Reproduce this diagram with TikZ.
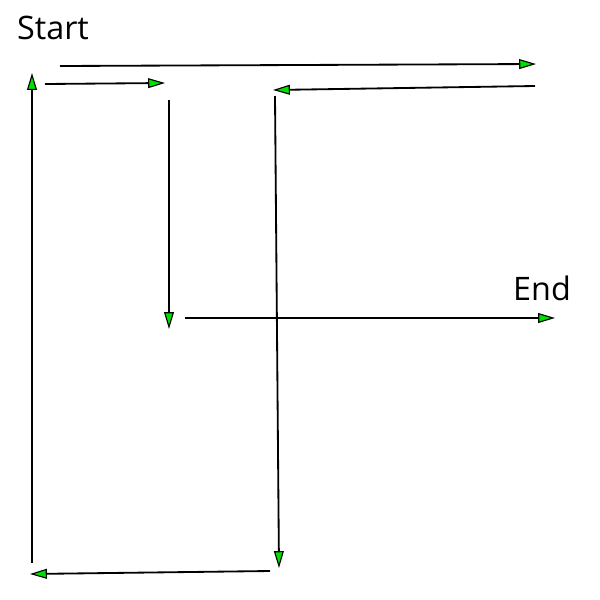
\documentclass[tikz,border=0pt]{standalone}
\usepackage{fontspec}
\setmainfont{Open Sans}
\usetikzlibrary{arrows.meta}

\tikzset{
  flow/.style={line width=1.3pt, -{Triangle[length=12pt, width=7pt, fill=green!80!black!60!green, line width=0.8pt]}},
  lbl/.style={font=\fontsize{23}{27}\selectfont, inner sep=0pt}
}

\begin{document}
\begin{tikzpicture}[x=0.025cm, y=-0.025cm]
      \useasboundingbox (0,0) rectangle (600,600);
      %labels
      \node[lbl] (start) at (53,28) {Start};
      \node[lbl] (end) at (542,288) {End};
      %points
      \coordinate (A1) at (60,66);   \coordinate (A2) at (536,64);
      \coordinate (B1) at (45,84);   \coordinate (B2) at (165,83);
      \coordinate (C1) at (535,86);  \coordinate (C2) at (273,90);
      \coordinate (D1) at (169,100); \coordinate (D2) at (169,329);
      \coordinate (E1) at (185,318); \coordinate (E2) at (555,318);
      \coordinate (F1) at (275,96);  \coordinate (F2) at (279,568);
      \coordinate (G1) at (270,571); \coordinate (G2) at (30,574);
      \coordinate (H1) at (32,563);  \coordinate (H2) at (32,73);
      %arrows
      \draw[flow] (A1)--(A2); \draw[flow] (B1)--(B2);
      \draw[flow] (C1)--(C2); \draw[flow] (D1)--(D2);
      \draw[flow] (E1)--(E2); \draw[flow] (F1)--(F2);
      \draw[flow] (G1)--(G2); \draw[flow] (H1)--(H2);
\end{tikzpicture}
\end{document}
